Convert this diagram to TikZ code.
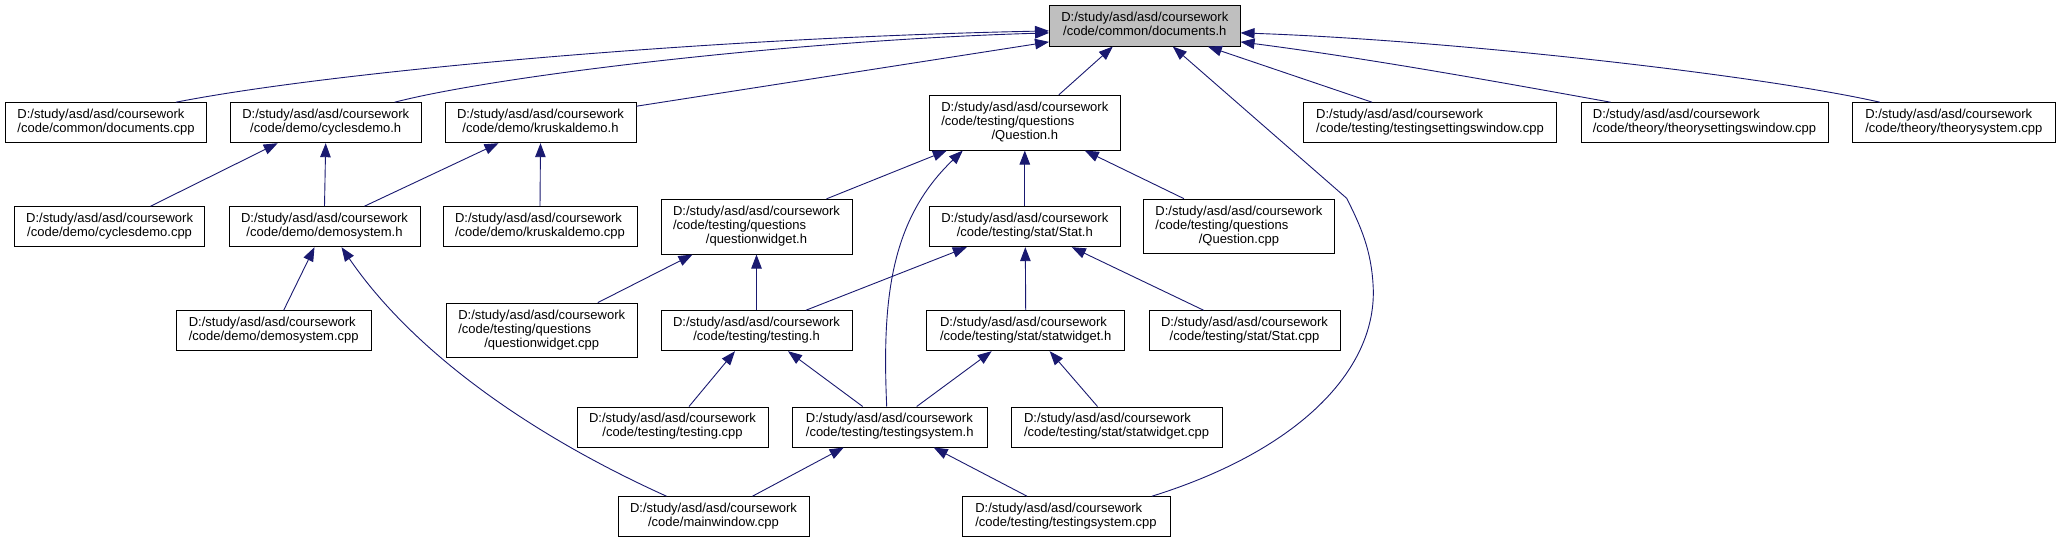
\documentclass[tikz,border=0pt]{standalone}
\usepackage{fontspec}
\setmainfont{Liberation Sans}
\usetikzlibrary{arrows.meta,calc}
\definecolor{edgeblue}{HTML}{191970}
\definecolor{focusgrey}{HTML}{BFBFBF}
\newcommand{\twol}[2]{\begin{tabular}{@{}l@{}}#1\\\multicolumn{1}{@{}c@{}}{#2}\end{tabular}}
\newcommand{\threel}[3]{\begin{tabular}{@{}l@{}}#1\\#2\\\multicolumn{1}{@{}c@{}}{#3}\end{tabular}}
\tikzset{
  filebox/.style={draw=black, line width=1pt, rectangle, inner sep=0pt, fill=white,
    minimum height=40pt, font=\fontsize{13}{14}\selectfont},
  tallbox/.style={filebox, minimum height=54.7pt},
  focusbox/.style={filebox, fill=focusgrey},
  dep/.style={draw=edgeblue, line width=0.9pt, -{Triangle[length=14pt,width=10.5pt]}}
}
\newcommand{\pre}{D:/study/asd/asd/coursework}
\begin{document}
\begin{tikzpicture}[x=1pt,y=-1pt]
\fill[white] (0,0) rectangle (2061,543);
\useasboundingbox (0,0) rectangle (2061,543);

% nodes
\node[focusbox, minimum width=190.5pt, minimum height=40.3pt] (dh) at (1144.8,25.9) {\twol{\pre}{/code/common/documents.h}};

\node[filebox, minimum width=201.3pt] (dcpp) at (106,122.7) {\twol{\pre}{/code/common/documents.cpp}};
\node[filebox, minimum width=190.6pt] (cyh) at (325.7,122.7) {\twol{\pre}{/code/demo/cyclesdemo.h}};
\node[filebox, minimum width=191pt] (krh) at (540.5,122.7) {\twol{\pre}{/code/demo/kruskaldemo.h}};
\node[tallbox, minimum width=190.5pt] (qh) at (1024.8,122.7) {\threel{\pre}{/code/testing/questions}{/Question.h}};
\node[filebox, minimum width=253.3pt] (tsw) at (1430,122.7) {\twol{\pre}{/code/testing/testingsettingswindow.cpp}};
\node[filebox, minimum width=247pt] (thsw) at (1704.5,122.7) {\twol{\pre}{/code/theory/theorysettingswindow.cpp}};
\node[filebox, minimum width=203.6pt] (ths) at (1953.8,122.7) {\twol{\pre}{/code/theory/theorysystem.cpp}};

\node[filebox, minimum width=190.7pt] (cyc) at (109.6,226.7) {\twol{\pre}{/code/demo/cyclesdemo.cpp}};
\node[filebox, minimum width=191pt] (dsh) at (324.5,226.7) {\twol{\pre}{/code/demo/demosystem.h}};
\node[filebox, minimum width=194pt] (krc) at (540,226.7) {\twol{\pre}{/code/demo/kruskaldemo.cpp}};
\node[tallbox, minimum width=191pt] (qwh) at (756.5,226.7) {\threel{\pre}{/code/testing/questions}{/questionwidget.h}};
\node[filebox, minimum width=190.5pt] (sth) at (1024.8,226.7) {\twol{\pre}{/code/testing/stat/Stat.h}};
\node[tallbox, minimum width=190.3pt] (qcpp) at (1238.9,226.5) {\threel{\pre}{/code/testing/questions}{/Question.cpp}};

\node[filebox, minimum width=194.7pt] (dsc) at (273.7,330.7) {\twol{\pre}{/code/demo/demosystem.cpp}};
\node[tallbox, minimum width=190.6pt] (qwc) at (541.7,330.5) {\threel{\pre}{/code/testing/questions}{/questionwidget.cpp}};
\node[filebox, minimum width=191pt] (tsh) at (756.5,330.7) {\twol{\pre}{/code/testing/testing.h}};
\node[filebox, minimum width=197.5pt] (swh) at (1025.7,330.7) {\twol{\pre}{/code/testing/stat/statwidget.h}};
\node[filebox, minimum width=191pt] (stc) at (1244.5,330.7) {\twol{\pre}{/code/testing/stat/Stat.cpp}};

\node[filebox, minimum width=191pt] (tcpp) at (672.5,427) {\twol{\pre}{/code/testing/testing.cpp}};
\node[filebox, minimum width=194.6pt] (tsys) at (889.7,427) {\twol{\pre}{/code/testing/testingsystem.h}};
\node[filebox, minimum width=211pt] (swc) at (1116.5,427) {\twol{\pre}{/code/testing/stat/statwidget.cpp}};

\node[filebox, minimum width=191pt] (mw) at (713.5,516.7) {\twol{\pre}{/code/mainwindow.cpp}};
\node[filebox, minimum width=208pt] (tsc) at (1066,516.7) {\twol{\pre}{/code/testing/testingsystem.cpp}};

% edges to documents.h
\draw[dep] ([xshift=70pt]dcpp.north) .. controls (330,72) and (700,38) .. ([yshift=-5pt]dh.west);
\draw[dep] ([xshift=69pt]cyh.north) .. controls (500,75) and (800,40) .. ([yshift=-7pt]dh.west);
\draw[dep] ([yshift=-4pt]krh.north east) -- ([yshift=-16pt]dh.west);
\draw[dep] ([xshift=34pt]qh.north) -- ([xshift=-32pt]dh.south);
\draw[dep] ([xshift=-58pt]tsw.north) -- ([xshift=63pt]dh.south);
\draw[dep] ([xshift=-94pt]thsw.north) .. controls (1488,80) and (1365,58) .. ([yshift=-16pt]dh.east);
\draw[dep] ([xshift=-74pt]ths.north) .. controls (1760,75) and (1450,40) .. ([yshift=-7pt]dh.east);
\draw[dep] ([xshift=86pt]tsc.north) .. controls (1300,450) and (1375,370) .. (1373.3,290)
   .. controls (1372,250) and (1360,225) .. (1346.7,198.3) -- ([xshift=28pt]dh.south);

% demo
\draw[dep] ([xshift=41pt]cyc.north) -- ([xshift=-48pt]cyh.south);
\draw[dep] (dsh.north) -- (cyh.south);
\draw[dep] ([xshift=40pt]dsh.north) -- ([xshift=-42pt]krh.south);
\draw[dep] (krc.north) -- (krh.south);
\draw[dep] ([xshift=10pt]dsc.north) -- ([xshift=-10pt]dsh.south);
\draw[dep] ([xshift=-47pt]mw.north) .. controls (526.5,433) and (411.5,349.5) .. ([xshift=17pt]dsh.south);

% questions
\draw[dep] ([xshift=70pt]qwh.north) -- ([xshift=-78pt]qh.south);
\draw[dep] (sth.north) -- (qh.south);
\draw[dep] ([xshift=-55pt]qcpp.north) -- ([xshift=60pt]qh.south);
\draw[dep] ([xshift=-3pt]tsys.north) .. controls (882,300) and (890,220) .. ([xshift=-62pt]qh.south);
\draw[dep] (tsh.north) -- (qwh.south);
\draw[dep] ([xshift=56pt]qwc.north) -- ([xshift=-64pt]qwh.south);

% stat
\draw[dep] ([xshift=49.5pt]tsh.north) -- ([xshift=-58pt]sth.south);
\draw[dep] (swh.north) -- ([xshift=0.5pt]sth.south);
\draw[dep] ([xshift=-41pt]stc.north) -- ([xshift=47pt]sth.south);

% testing
\draw[dep] ([xshift=16.5pt]tcpp.north) -- ([xshift=-21.5pt]tsh.south);
\draw[dep] ([xshift=-27pt]tsys.north) -- ([xshift=31.5pt]tsh.south);
\draw[dep] ([xshift=27pt]tsys.north) -- ([xshift=-34pt]swh.south);
\draw[dep] ([xshift=-19pt]swc.north) -- ([xshift=24pt]swh.south);
\draw[dep] ([xshift=39pt]mw.north) -- ([xshift=-46pt]tsys.south);
\draw[dep] ([xshift=-39pt]tsc.north) -- ([xshift=44pt]tsys.south);
\end{tikzpicture}
\end{document}
